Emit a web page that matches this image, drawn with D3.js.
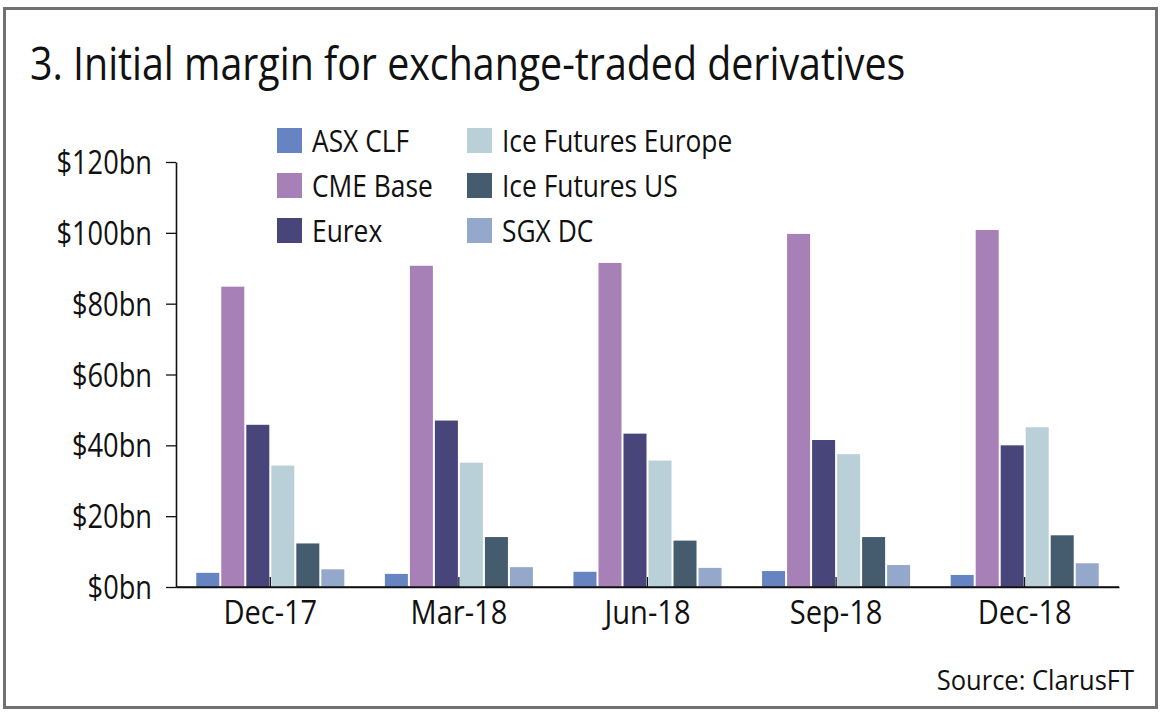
<!DOCTYPE html>
<html>
<head>
<meta charset="utf-8">
<script src="https://cdn.jsdelivr.net/npm/d3@7"></script>
<style>
  html, body { margin: 0; padding: 0; background: #ffffff; }
  svg { display: block; }
  text { font-family: "Open Sans", "Noto Sans", sans-serif; fill: #111; }
</style>
</head>
<body>
<svg id="chart" width="1160" height="716"></svg>
<script>
// ---- data ----
const categories = ["Dec-17", "Mar-18", "Jun-18", "Sep-18", "Dec-18"];
const seriesNames = ["ASX CLF", "CME Base", "Eurex", "Ice Futures Europe", "Ice Futures US", "SGX DC"];
const asxClf = [4.0, 3.7, 4.3, 4.5, 3.4];
const cmeBase = [84.8, 90.7, 91.5, 99.7, 100.8];
const eurex = [45.8, 47.0, 43.3, 41.5, 40.0];
const iceEurope = [34.3, 35.1, 35.7, 37.5, 45.1];
const iceUS = [12.3, 14.1, 13.1, 14.1, 14.6];
const sgxDc = [5.0, 5.6, 5.4, 6.2, 6.7];
const yTicks = [0, 20, 40, 60, 80, 100, 120];
const seriesColors = ["#6683c2", "#a880b8", "#48457a", "#bad0d8", "#455b6e", "#94a8cc"];
const titleText = "3. Initial margin for exchange-traded derivatives";
const sourceText = "Source: ClarusFT";

const seriesValues = [asxClf, cmeBase, eurex, iceEurope, iceUS, sgxDc];
const table = categories.map((c, i) => ({
  cat: c,
  vals: seriesNames.map((s, j) => ({ name: s, value: seriesValues[j][i], idx: j }))
}));

// ---- helpers ----
function condense(sel, f) {
  sel.each(function () {
    const w = this.getComputedTextLength();
    this.setAttribute("textLength", (w * f).toFixed(1));
    this.setAttribute("lengthAdjust", "spacingAndGlyphs");
  });
}

const svg = d3.select("#chart");

// frame
svg.append("rect")
  .attr("x", 4.5).attr("y", 8.5).attr("width", 1152).attr("height", 699)
  .attr("fill", "#fff").attr("stroke", "#707070").attr("stroke-width", 3);

// title
svg.append("text")
  .attr("x", 30).attr("y", 80)
  .attr("font-size", 46)
  .text(titleText)
  .call(condense, 0.855);

// scales
const x0 = d3.scaleBand().domain(categories).range([176, 1119])
  .paddingInner(0.215).paddingOuter(0.1075);
const x1 = d3.scaleBand().domain(seriesNames).range([0, x0.bandwidth()])
  .paddingInner(0.08).paddingOuter(0);
const y = d3.scaleLinear().domain([0, 120]).range([587, 162]);
const color = d3.scaleOrdinal().domain(seriesNames).range(seriesColors);

// x axis (ticks pointing up)
const xAxis = svg.append("g")
  .attr("transform", "translate(0,587)")
  .call(d3.axisBottom(x0).tickSize(-10).tickSizeOuter(0).tickPadding(0));
xAxis.select(".domain").attr("stroke", "#111").attr("stroke-width", 1.6);
xAxis.selectAll(".tick line").attr("stroke", "#111").attr("stroke-width", 1.3);
xAxis.selectAll(".tick text").remove();
xAxis.selectAll(".tick").append("text")
  .attr("y", 37)
  .attr("text-anchor", "middle")
  .attr("font-size", 33)
  .attr("fill", "#111")
  .text(d => d)
  .call(condense, 0.88);

// y axis
const yAxis = svg.append("g")
  .attr("transform", "translate(176,0)")
  .call(d3.axisLeft(y).tickValues(yTicks).tickSize(10).tickSizeOuter(0).tickFormat(d => "$" + d + "bn"));
yAxis.select(".domain").attr("stroke", "#111").attr("stroke-width", 1.6);
yAxis.selectAll(".tick line").attr("stroke", "#111").attr("stroke-width", 1.3);
yAxis.selectAll(".tick text")
  .attr("x", -24).attr("dy", "0.36em")
  .attr("font-size", 32)
  .attr("font-family", "'Open Sans', sans-serif")
  .attr("fill", "#111")
  .call(condense, 0.85);

// bars
const groups = svg.append("g").selectAll("g")
  .data(table).join("g")
  .attr("transform", d => `translate(${x0(d.cat)},0)`);
groups.selectAll("rect")
  .data(d => d.vals).join("rect")
  .attr("x", d => x1(d.name))
  .attr("width", x1.bandwidth())
  .attr("y", d => y(d.value))
  .attr("height", d => y(0) - y(d.value))
  .attr("fill", d => color(d.name));

// redraw x domain line over bars
svg.append("line")
  .attr("x1", 176).attr("x2", 1119).attr("y1", 587).attr("y2", 587)
  .attr("stroke", "#111").attr("stroke-width", 1.6);

// legend
const legendCols = [277, 467];
const legendRows = [128, 173, 218];
const legend = svg.append("g").selectAll("g")
  .data(seriesNames).join("g")
  .attr("transform", (d, i) => `translate(${legendCols[Math.floor(i / 3)]},${legendRows[i % 3]})`);
legend.append("rect")
  .attr("width", 25).attr("height", 25)
  .attr("fill", d => color(d));
legend.append("text")
  .attr("x", 35).attr("y", 24)
  .attr("font-size", 31)
  .text(d => d)
  .call(condense, 0.85);

// source
svg.append("text")
  .attr("x", 1134).attr("y", 690)
  .attr("text-anchor", "end")
  .attr("font-size", 28)
  .text(sourceText)
  .call(condense, 0.91);
</script>
</body>
</html>
